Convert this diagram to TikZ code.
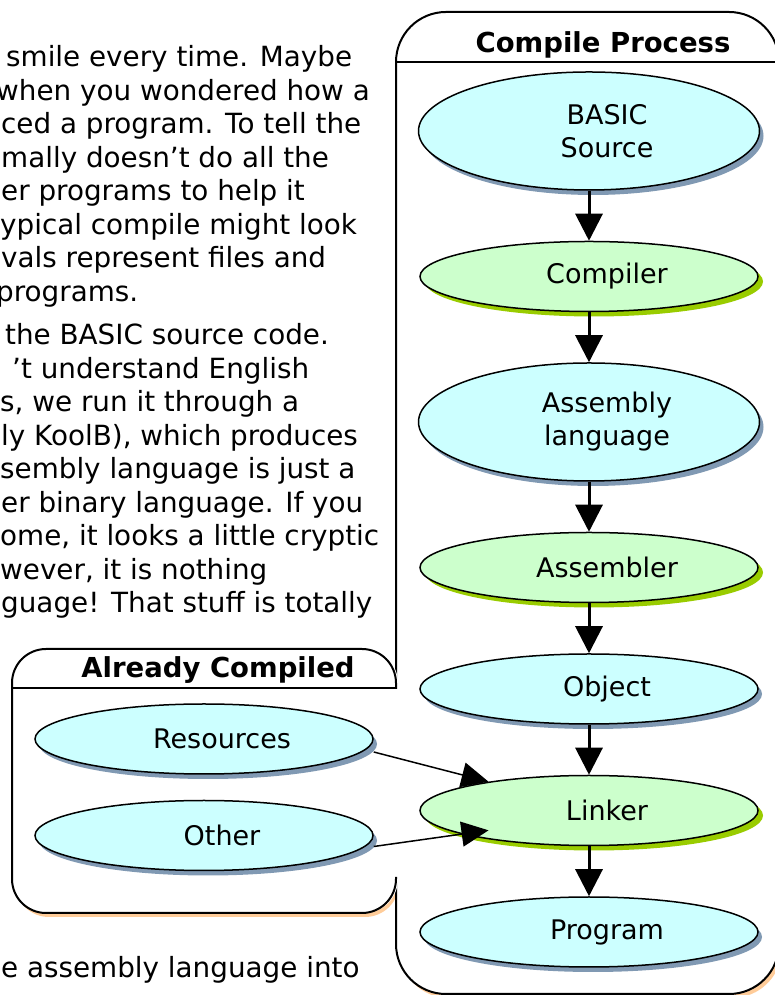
\documentclass[tikz,border=0pt]{standalone}
\usepackage{fontspec}
\setmainfont{DejaVu Sans}
\usetikzlibrary{shapes.geometric, arrows.meta, positioning}

\definecolor{fileblue}{HTML}{CCFFFF}
\definecolor{toolgreen}{HTML}{CCFFCC}
\definecolor{fileshade}{HTML}{8099B3}
\definecolor{toolshade}{HTML}{99CC00}
\definecolor{panelshade}{HTML}{FFCC99}

\newcommand{\pad}{\hspace*{36pt}}

\begin{document}
\begin{tikzpicture}[
    x=1pt, y=1pt,
    node distance=50pt,
    ell/.style={ellipse, draw, line width=1.5pt, inner sep=2pt, align=center,
                minimum width=338pt, minimum height=70pt,
                font=\fontsize{27}{33}\selectfont},
    file/.style={ell, fill=fileblue,
                preaction={fill=fileshade, transform canvas={xshift=4pt, yshift=-5pt}}},
    tool/.style={ell, fill=toolgreen,
                preaction={fill=toolshade, transform canvas={xshift=5pt, yshift=-5pt}}},
    tall/.style={minimum width=341pt, minimum height=118pt},
    head/.style={anchor=base, font=\bfseries\fontsize{27.5}{33}\selectfont},
    bodytext/.style={align=left, inner sep=0pt, anchor=base west,
                font=\fontsize{27.8}{33.5}\selectfont},
    arrow/.style={-{Triangle[length=27pt, width=27pt]}, line width=3pt},
    feed/.style={-{Triangle[length=27pt, width=25pt]}, line width=1.5pt}
]
\useasboundingbox (0,0) rectangle (775,995);

% === PAGE TEXT (cut at the left edge, anchored on the last line) ===
\node[bodytext] (para1) at (1,693.5) {\hspace*{5pt}smile every time. Maybe\\
\hspace*{-5pt}when you wondered how a\\
ced a program. To tell the\\
mally doesn’t do all the\\
er programs to help it\\
\hspace*{-1pt}ypical compile might look\\
vals represent files and\\
\hspace*{-5pt}programs.};
\node[bodytext] (para2) at (1,382) {\hspace*{4pt}the BASIC source code.\\
\hspace*{11pt}’t understand English\\
\hspace*{-1pt}s, we run it through a\\
ly KoolB), which produces\\
\hspace*{-1pt}sembly language is just a\\
er binary language. If you\\
\hspace*{-1pt}ome, it looks a little cryptic\\
\hspace*{-1pt}wever, it is nothing\\
guage! That stuff is totally};
\node[bodytext] (para3) at (1,17) {e assembly language into};

% === PANELS ===
\fill[panelshade, rounded corners=34pt] (15,78) rectangle (399,342);
\fill[panelshade, rounded corners=50pt] (399,-3) rectangle (782,979);
\draw[line width=2pt, fill=white, rounded corners=50pt] (396,1) rectangle (779,983);
\draw[line width=2.5pt] (396,933) -- (779,933);
\fill[white, rounded corners=34pt] (12,82) rectangle (398,346);
\draw[line width=2pt, rounded corners=34pt]
    (396,118) -- (396,82) -- (12,82) -- (12,346) -- (396,346) -- (396,306);
\draw[line width=2.5pt] (12,307) -- (396,307);

\node[head] (cphead) at (603,942) {Compile Process};
\node[head] (achead) at (218,317) {Already Compiled};

% === COMPILE CHAIN ===
\node[file, tall] (src) at (589,864) {\pad BASIC\\\pad Source};
\node[tool, below=of src] (comp) {\pad Compiler};
\node[file, tall, below=of comp] (asm) {\pad Assembly\\\pad language};
\node[tool, below=of asm] (asmr) {\pad Assembler};
\node[file, below=of asmr] (obj) {\pad Object};
\node[tool, below=of obj] (link) {\pad Linker};
\node[file, below=of link] (prog) {\pad Program};

% === ALREADY COMPILED ===
\node[file] (res) at (204,256) {\pad Resources};
\node[file, below=25pt of res] (other) {\pad Other};

% === ARROWS ===
\draw[arrow] (src) -- (comp);
\draw[arrow] (comp) -- (asm);
\draw[arrow] (asm) -- (asmr);
\draw[arrow] (asmr) -- (obj);
\draw[arrow] (obj) -- (link);
\draw[arrow] (link) -- (prog);
\draw[feed] ([yshift=-13pt]res.east) -- (link.164);
\draw[feed] ([yshift=-11pt]other.east) -- ([yshift=9pt]link.196);

\end{tikzpicture}
\end{document}
